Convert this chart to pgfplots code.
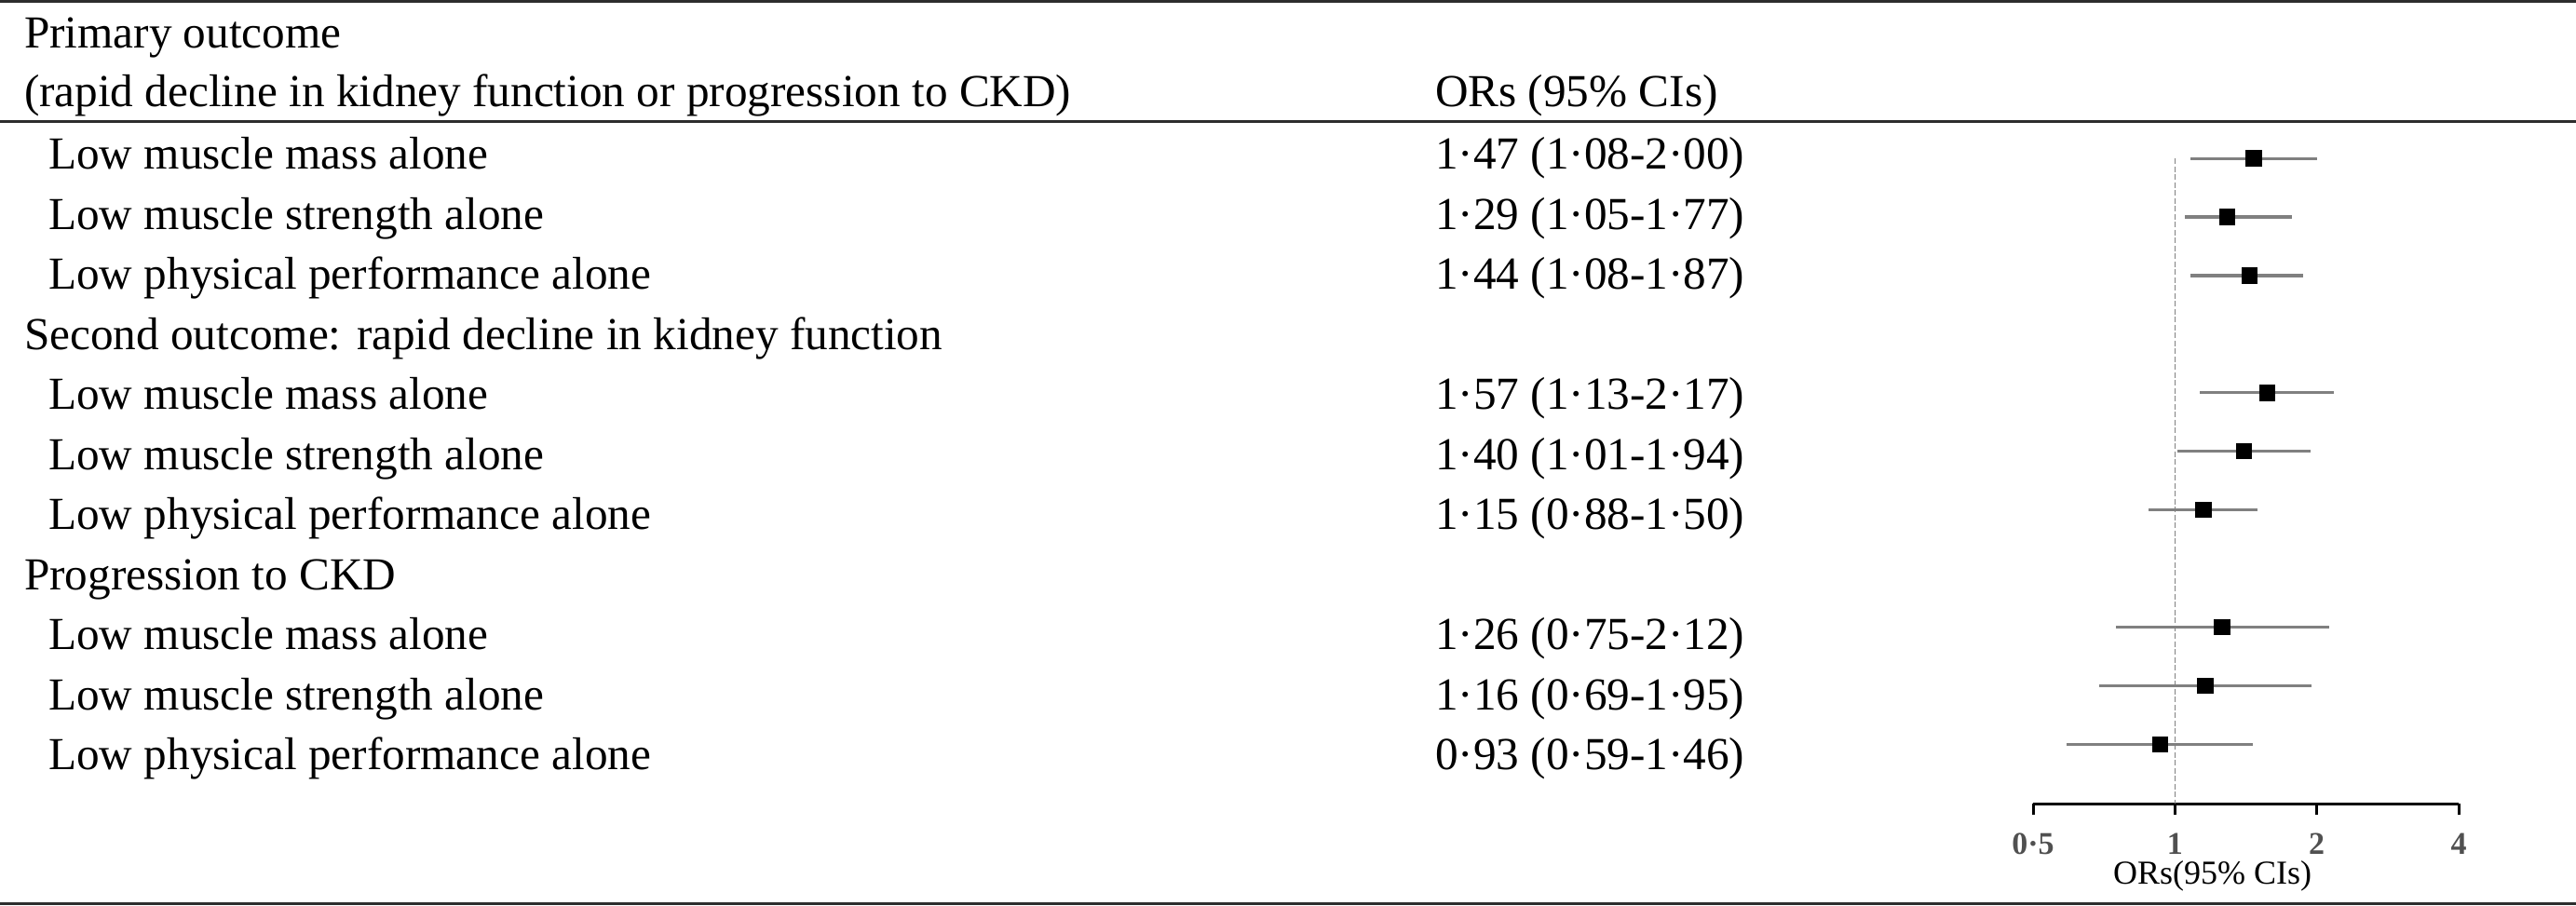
\documentclass[border=0pt]{standalone}
\usepackage{fontspec}
\setmainfont{Liberation Serif}
\usepackage{pgfplots}
\pgfplotsset{compat=1.18}
\usepackage{pgfplotstable}
\definecolor{cigray}{RGB}{128,128,128}
\definecolor{tickgray}{RGB}{80,80,80}
\definecolor{rulecol}{RGB}{45,45,45}
\begin{document}
\fontsize{9.85}{12}\selectfont
\pgfplotstableread{
row or
-1 1.47
-2 1.29
-3 1.44
-5 1.57
-6 1.40
-7 1.15
-9 1.26
-10 1.16
-11 0.93
}\ordata
\begin{tikzpicture}
\useasboundingbox (0,0) rectangle (553.2pt,194.6pt);
% rules
\draw[line width=0.6pt, rulecol] (0,194.3pt) -- (553.2pt,194.3pt);
\draw[line width=0.6pt, rulecol] (0,168.4pt) -- (553.2pt,168.4pt);
\draw[line width=0.6pt, rulecol] (0,0.4pt) -- (553.2pt,0.4pt);
% header
\node[anchor=base west, inner sep=0] at (5.0pt,184.2pt) {Primary outcome};
\node[anchor=base west, inner sep=0] at (5.0pt,171.6pt) {(rapid decline in kidney function or progression to CKD)};
\node[anchor=base west, inner sep=0] at (308pt,171.6pt) {ORs (95\% CIs)};
% rows
\foreach \k/\lab/\val/\ind in {
 1/Low muscle mass alone/1·47 (1·08-2·00)/1,
 2/Low muscle strength alone/1·29 (1·05-1·77)/1,
 3/Low physical performance alone/1·44 (1·08-1·87)/1,
 4/Second outcome: rapid decline in kidney function//0,
 5/Low muscle mass alone/1·57 (1·13-2·17)/1,
 6/Low muscle strength alone/1·40 (1·01-1·94)/1,
 7/Low physical performance alone/1·15 (0·88-1·50)/1,
 8/Progression to CKD//0,
 9/Low muscle mass alone/1·26 (0·75-2·12)/1,
 10/Low muscle strength alone/1·16 (0·69-1·95)/1,
 11/Low physical performance alone/0·93 (0·59-1·46)/1}{
  \pgfmathsetmacro{\yy}{158.2-(\k-1)*12.9}
  \pgfmathsetmacro{\xx}{5.0+\ind*5.25}
  \node[anchor=base west, inner sep=0] at (\xx pt,\yy pt) {\lab};
  \node[anchor=base west, inner sep=0] at (308pt,\yy pt) {\val};
}
\node[anchor=base west, inner sep=0, font=\fontsize{7.2}{8}\selectfont] at (453.6pt,4.6pt) {ORs(95\% CIs)};
\begin{axis}[
  at={(436.6pt,21.9pt)}, anchor=south west,
  scale only axis, width=91.4pt, height=138.66pt,
  xmode=log, log basis x=2,
  xmin=0.5, xmax=4, ymin=-12.02, ymax=-1,
  axis x line=bottom, axis y line=none,
  x axis line style={-, line width=0.6pt, black},
  xtick={0.5,1,2,4}, xticklabels={0·5,1,2,4},
  minor xtick={},
  tick align=outside, major tick length=2.4pt,
  xtick style={line width=0.6pt, black},
  xticklabel style={font=\fontsize{6.8}{7}\selectfont\bfseries, text=tickgray, anchor=base, yshift=-8.4pt},
  clip=false,
]
\addplot[gray, line width=0.3pt, dash pattern=on 1.2pt off 0.5pt] coordinates {(1,-1) (1,-12.02)};
\addplot[cigray, line width=0.65pt] coordinates {(1.08,-1) (2.00,-1)};
\addplot[cigray, line width=0.65pt] coordinates {(1.05,-2) (1.77,-2)};
\addplot[cigray, line width=0.65pt] coordinates {(1.08,-3) (1.87,-3)};
\addplot[cigray, line width=0.65pt] coordinates {(1.13,-5) (2.17,-5)};
\addplot[cigray, line width=0.65pt] coordinates {(1.01,-6) (1.94,-6)};
\addplot[cigray, line width=0.65pt] coordinates {(0.88,-7) (1.50,-7)};
\addplot[cigray, line width=0.65pt] coordinates {(0.75,-9) (2.12,-9)};
\addplot[cigray, line width=0.65pt] coordinates {(0.69,-10) (1.95,-10)};
\addplot[cigray, line width=0.65pt] coordinates {(0.59,-11) (1.46,-11)};
\addplot[only marks, mark=square*, mark size=1.55pt, black] table[x=or, y=row] {\ordata};
\end{axis}
\end{tikzpicture}
\end{document}
